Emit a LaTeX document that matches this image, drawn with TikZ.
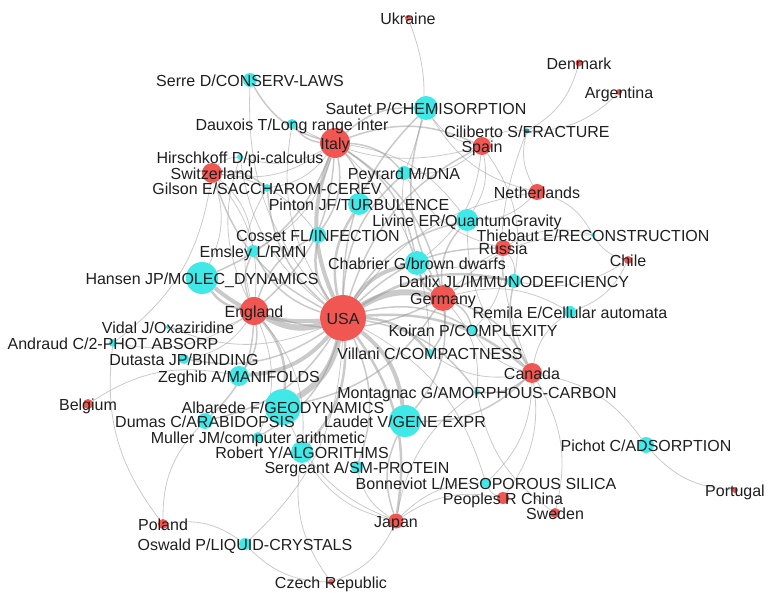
\documentclass[tikz,border=0pt]{standalone}
\usepackage{fontspec}
\setmainfont{Liberation Sans}
\usetikzlibrary{backgrounds}
\definecolor{netred}{RGB}{240,86,82}
\definecolor{netcyan}{RGB}{64,232,232}
\definecolor{netteal}{RGB}{28,150,150}
\definecolor{netedge}{RGB}{150,150,150}

\begin{document}
\begin{tikzpicture}[x=1pt, y=-1pt,
  country/.style={circle, fill=netred, inner sep=0pt},
  topic/.style={circle, fill=netcyan, inner sep=0pt},
  link/.style={draw=netedge, draw opacity=0.5, bend left=22},
  tag/.style={anchor=base, yshift=-6.5pt, text=black!88, inner sep=0pt,
    font=\fontsize{16}{18}\selectfont}]
  \useasboundingbox (0,0) rectangle (768,593);

  \foreach \n/\x/\y/\d in {usa/343/318/46, ita/335/143/30, eng/254/311/28,
      ger/443/298/26, spa/482/146/18, swi/212/173/20, can/532/373/20,
      net/537/192/16, rus/503/248/16, jap/396/521/15, chn/503/498/12,
      swe/555/513/10, bel/88/404/10, pol/163/524/10, chl/628/260/8,
      ukr/408/18/6, den/579/63/7, arg/619/92/6, por/735/490/6, cze/331/582/6}
    \node[country, minimum size=\d pt] (\n) at (\x,\y) {};

  \foreach \n/\x/\y/\d in {serre/250/80/14, sau/426/108/24, dau/292/124/10,
      hir/240/157/6, pey/404/173/14, gil/267/188/8, pin/359/204/22,
      liv/467/220/22, thi/593/235/4, cos/318/235/16, ems/253/251/12,
      cha/417/263/24, han/202/278/32, dar/514/281/14, rem/570/312/12,
      koi/473/330/10, vid/168/327/4, andr/113/343/8, vil/430/353/8,
      dut/184/359/10, zeg/239/376/20, mon/477/392/6, alb/283/407/36,
      lau/405/421/32, dum/205/421/16, mul/258/437/10, rob/302/452/22,
      pich/646/445/16, sgt/357/467/12, bon/486/483/10, osw/245/544/12}
    \node[topic, minimum size=\d pt] (\n) at (\x,\y) {};
  \node[circle, fill=netteal, inner sep=0pt, minimum size=5pt] (cil) at (527,131) {};

  \begin{scope}[on background layer]
    \foreach \a/\b/\w in {usa/eng/6, usa/ger/6, usa/ita/4, usa/han/4,
        usa/alb/6, usa/lau/4, usa/zeg/4, usa/cha/4, usa/can/2.5,
        usa/jap/2.5, usa/pin/2.5, usa/cos/2.5, usa/rob/2.5, usa/dum/1.5,
        usa/vil/2.5, usa/koi/1.5, usa/dar/2.5, usa/liv/1.5, usa/sau/1.5,
        usa/pey/1.5, usa/gil/1.5, usa/ems/1.5, usa/mon/1.5, usa/sgt/1.5,
        usa/mul/1.5, usa/dut/1.5, usa/vid/0.8, usa/swi/1.5, usa/rus/1.5,
        usa/spa/1.5, usa/net/0.8, usa/serre/0.8, usa/dau/0.8, usa/hir/0.8,
        usa/bon/0.8, usa/osw/0.8,
        ita/sau/1.5, ita/dau/1.5, ita/serre/1.5, ita/pey/1.5, ita/pin/1.5,
        ita/cos/1.5, ita/ems/0.8, ita/han/1.5, ita/cha/1.5, ita/hir/0.8,
        ita/gil/0.8, ita/spa/1.5, ita/ger/1.5, ita/liv/0.8, ita/eng/1.5,
        ita/swi/0.8, ita/vil/0.8,
        spa/sau/0.8, spa/cil/0.8, spa/pey/0.8, spa/liv/0.8, spa/cha/0.8,
        spa/dar/0.8, spa/dau/0.8,
        swi/hir/0.8, swi/gil/1.5, swi/cos/0.8, swi/ems/0.8, swi/han/0.8,
        swi/andr/0.8, swi/eng/0.8,
        net/sau/0.8, net/liv/0.8, net/thi/0.8, net/cil/0.8,
        rus/pey/0.8, rus/cha/0.8, rus/dar/0.8, rus/thi/0.8, rus/koi/0.8,
        ger/sau/1.5, ger/pey/0.8, ger/liv/1.5, ger/cha/2.5, ger/dar/1.5,
        ger/koi/1.5, ger/vil/1.5, ger/rem/0.8, ger/thi/0.8, ger/lau/1.5,
        ger/alb/1.5, ger/can/1.5, ger/eng/1.5, ger/mon/0.8,
        eng/han/2.5, eng/cos/1.5, eng/ems/1.5, eng/gil/0.8, eng/hir/0.8,
        eng/vid/0.8, eng/andr/0.8, eng/dut/0.8, eng/zeg/1.5, eng/alb/2.5,
        eng/dum/1.5, eng/mul/0.8, eng/rob/0.8,
        can/cil/0.8, can/liv/0.8, can/dar/1.5, can/rem/0.8, can/koi/0.8,
        can/vil/0.8, can/mon/1.5, can/lau/1.5, can/pich/0.8, can/bon/0.8,
        can/swe/0.8, can/chn/0.8,
        jap/lau/1.5, jap/sgt/0.8, jap/rob/0.8, jap/bon/0.8, jap/chn/0.8,
        jap/cze/0.8, jap/alb/0.8, jap/mon/0.8,
        ukr/pey/0.8, den/cil/0.8, arg/cil/0.8, chl/thi/0.8, chl/dar/0.8,
        chl/rem/0.8, por/pich/0.8, swe/mon/0.8, chn/bon/0.8, cze/osw/0.8,
        cze/rob/0.8, pol/osw/0.8, pol/andr/0.8, pol/dum/0.8, bel/zeg/0.8}
      \draw[link, line width=\w pt] (\a) to (\b);
  \end{scope}

  \foreach \n/\t in {usa/{USA}, ita/{Italy}, eng/{England}, ger/{Germany},
      spa/{Spain}, swi/{Switzerland}, can/{Canada}, net/{Netherlands},
      rus/{Russia}, jap/{Japan}, chn/{Peoples R China}, swe/{Sweden},
      bel/{Belgium}, pol/{Poland}, chl/{Chile}, ukr/{Ukraine},
      den/{Denmark}, arg/{Argentina}, por/{Portugal}, cze/{Czech Republic},
      serre/{Serre D/CONSERV-LAWS}, sau/{Sautet P/CHEMISORPTION},
      dau/{Dauxois T/Long range inter}, cil/{Ciliberto S/FRACTURE},
      hir/{Hirschkoff D/pi-calculus}, pey/{Peyrard M/DNA},
      gil/{Gilson E/SACCHAROM-CEREV}, pin/{Pinton JF/TURBULENCE},
      liv/{Livine ER/QuantumGravity}, thi/{Thiebaut E/RECONSTRUCTION},
      cos/{Cosset FL/INFECTION}, ems/{Emsley L/RMN},
      cha/{Chabrier G/brown dwarfs}, han/{Hansen JP/MOLEC\_DYNAMICS},
      dar/{Darlix JL/IMMUNODEFICIENCY}, rem/{Remila E/Cellular automata},
      koi/{Koiran P/COMPLEXITY}, vid/{Vidal J/Oxaziridine},
      andr/{Andraud C/2-PHOT ABSORP}, vil/{Villani C/COMPACTNESS},
      dut/{Dutasta JP/BINDING}, zeg/{Zeghib A/MANIFOLDS},
      mon/{Montagnac G/AMORPHOUS-CARBON}, alb/{Albarede F/GEODYNAMICS},
      lau/{Laudet V/GENE EXPR}, dum/{Dumas C/ARABIDOPSIS},
      mul/{Muller JM/computer arithmetic}, rob/{Robert Y/ALGORITHMS},
      pich/{Pichot C/ADSORPTION}, sgt/{Sergeant A/SM-PROTEIN},
      bon/{Bonneviot L/MESOPOROUS SILICA}, osw/{Oswald P/LIQUID-CRYSTALS}}
    \node[tag] (\n-l) at (\n) {\t};
\end{tikzpicture}
\end{document}
